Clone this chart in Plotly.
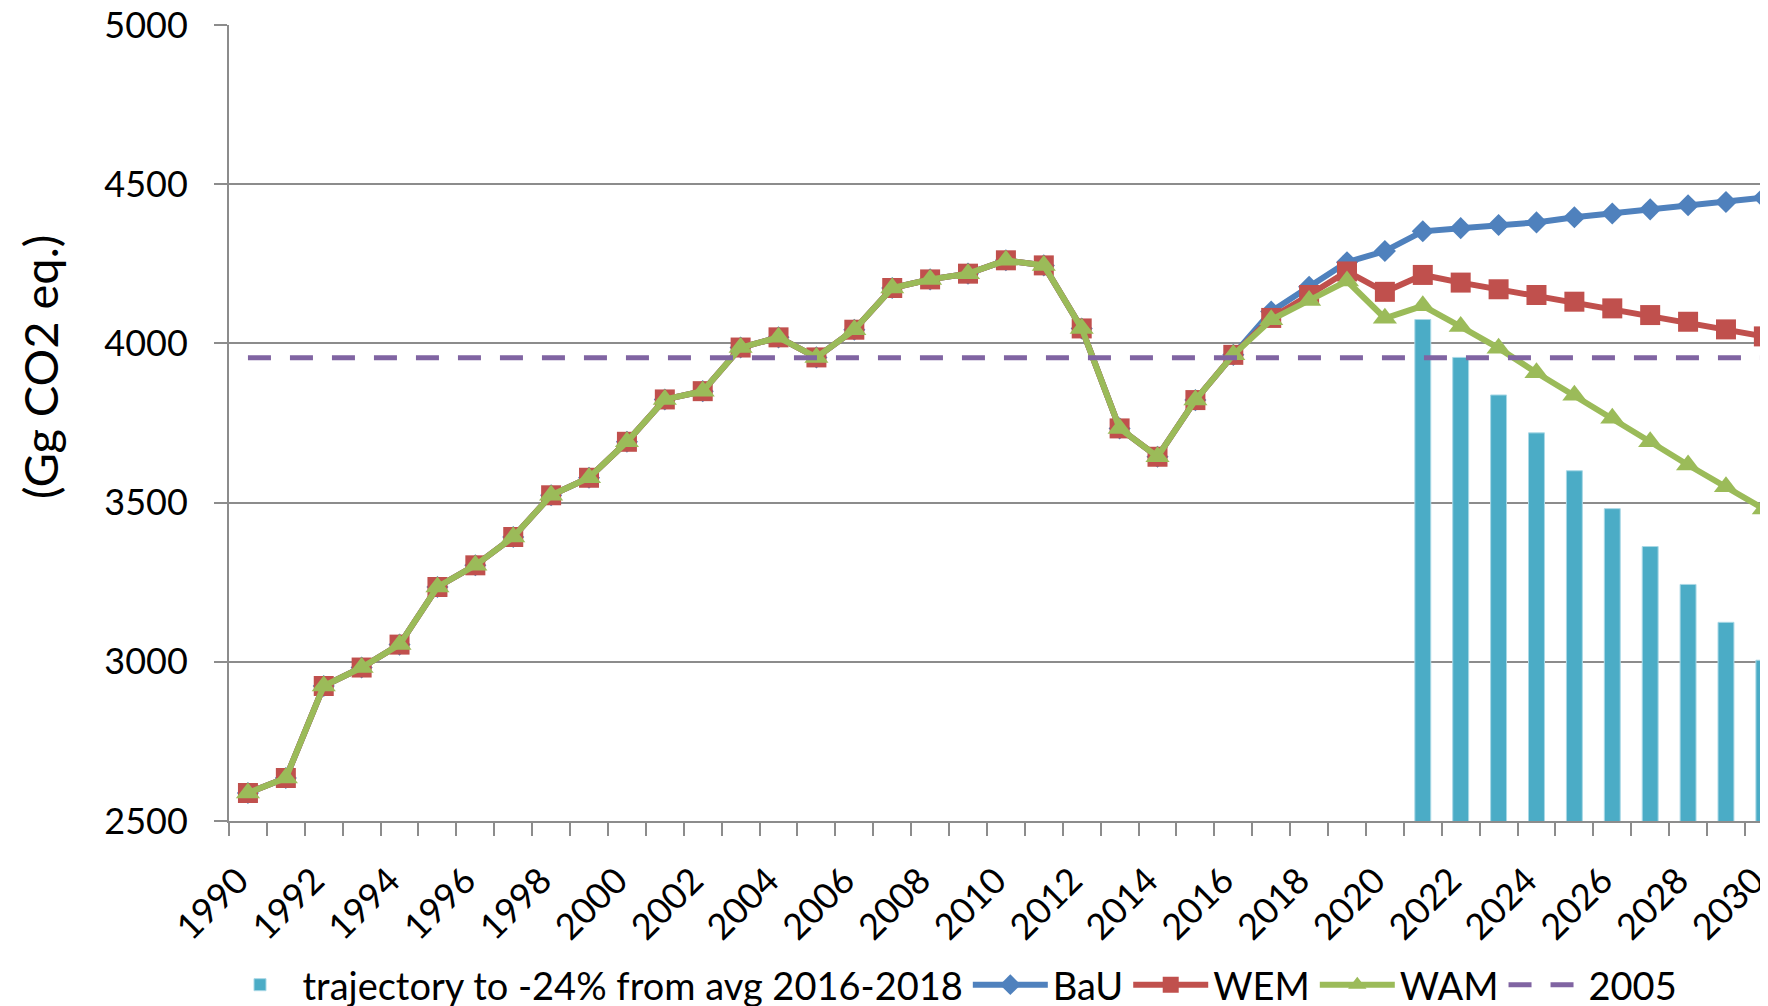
import plotly.graph_objects as go

years = list(range(1990, 2031))

# historical emissions 1990-2016 (shared by all scenarios)
history = [2588, 2635, 2924, 2982, 3054, 3235, 3303, 3392, 3523, 3578,
           3691, 3824, 3850, 3987, 4019, 3956, 4043, 4174, 4201, 4219,
           4261, 4245, 4047, 3733, 3644, 3822, 3964]
# projections 2017-2030
bau_proj = [4100, 4178, 4255, 4290, 4352, 4362, 4372, 4380, 4396, 4408, 4421, 4434, 4444, 4458]
wem_proj = [4080, 4152, 4226, 4162, 4215, 4191, 4170, 4152, 4131, 4110, 4089, 4068, 4044, 4022]
wam_proj = [4074, 4135, 4196, 4079, 4118, 4053, 3985, 3908, 3837, 3765, 3691, 3618, 3550, 3480]

bau = history + bau_proj
wem = history + wem_proj
wam = history + wam_proj

traj_years = list(range(2021, 2031))
traj_values = [4075, 3956, 3838, 3719, 3600, 3481, 3362, 3243, 3124, 3005]

level_2005 = 3955

tick_years = years[::2]
tick_labels = [str(y) for y in tick_years]
y_ticks = [2500, 3000, 3500, 4000, 4500, 5000]
boundaries = [y - 0.5 for y in years] + [years[-1] + 0.5]

FONT = "Lato, Carlito, Calibri, sans-serif"
FS = 36
GRID = "#8C8C8C"

# plot area in figure pixels (page body adds an 8px offset)
ML, MT, MB = 221, 17, 193
PW = 1768 - ML
PH = 1006 - MT - MB

fig = go.Figure()
fig.add_trace(go.Bar(
    x=traj_years, y=traj_values, width=0.42,
    name="trajectory to -24% from avg 2016-2018",
    marker=dict(color="#4BACC6", line=dict(color="#A9D8E6", width=1)),
))
fig.add_trace(go.Scatter(
    x=years, y=bau, name="BaU", mode="lines+markers",
    line=dict(color="#4F81BD", width=6),
    marker=dict(symbol="diamond", size=17, color="#4F81BD"),
))
fig.add_trace(go.Scatter(
    x=years, y=wem, name="WEM", mode="lines+markers",
    line=dict(color="#C0504D", width=6),
    marker=dict(symbol="square", size=20, color="#C0504D"),
))
fig.add_trace(go.Scatter(
    x=years, y=wam, name="WAM", mode="lines+markers",
    line=dict(color="#9BBB59", width=6),
    marker=dict(symbol="triangle-up", size=21, color="#9BBB59"),
))
fig.add_trace(go.Scatter(
    x=[years[0], years[-1]], y=[level_2005, level_2005], name="2005", mode="lines",
    line=dict(color="#8064A2", width=5, dash="23px,19px"),
))

fig.update_layout(
    width=1768, height=1006,
    margin=dict(l=ML, r=0, t=MT, b=MB, autoexpand=False),
    paper_bgcolor="white", plot_bgcolor="white",
    font=dict(family=FONT, size=FS, color="black"),
    showlegend=True,
    legend=dict(orientation="h", x=(942 - ML) / PW, xanchor="center",
                y=(MT + PH - 977) / PH, yanchor="middle",
                font=dict(family=FONT, size=38, color="black"),
                itemwidth=75, tracegroupgap=0, bgcolor="rgba(0,0,0,0)"),
    xaxis=dict(
        range=[1989.5, 2030.32], showgrid=False, zeroline=False, automargin=False,
        showline=True, linecolor=GRID, linewidth=2,
        tickmode="array", tickvals=tick_years, ticktext=tick_labels,
        tickangle=-45, ticks="outside", ticklen=10, tickcolor="rgba(0,0,0,0)",
        ticklabelstandoff=12, ticklabelshift=-10, ticklabeloverflow="allow",
        tickfont=dict(family=FONT, size=FS, color="black"),
        minor=dict(tickmode="array", tickvals=boundaries, ticks="outside",
                   ticklen=13, tickcolor=GRID, tickwidth=2, showgrid=False),
    ),
    yaxis=dict(
        range=[2500, 5000], tickmode="array", tickvals=y_ticks,
        showgrid=True, gridcolor=GRID, gridwidth=2, zeroline=False, automargin=False,
        showline=True, linecolor=GRID, linewidth=2,
        ticks="outside", ticklen=13, tickcolor=GRID, tickwidth=2,
        ticklabelstandoff=19, ticklabeloverflow="allow",
        tickfont=dict(family=FONT, size=FS, color="black"),
    ),
    annotations=[dict(
        text="(Gg CO2 eq.)", textangle=-90, xref="paper", yref="paper",
        x=(32 - ML) / PW, y=(MT + PH - 359) / PH, xanchor="center", yanchor="middle",
        showarrow=False,
        font=dict(family=FONT, size=47, color="black"),
    )],
)

fig.write_html("out.html")
